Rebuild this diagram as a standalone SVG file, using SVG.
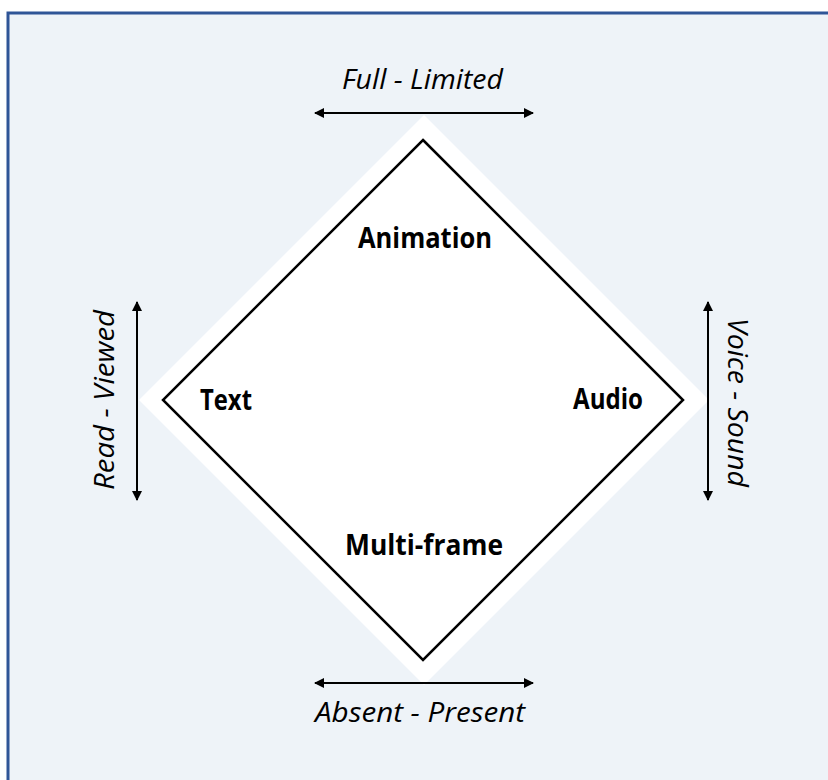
<svg xmlns="http://www.w3.org/2000/svg" width="828" height="780" viewBox="0 0 828 780">
  <style>
    .axis { font-family: "Open Sans", Lato, sans-serif; font-style: italic; font-size: 27px; fill: #000; }
    .node { font-family: "Open Sans", Lato, sans-serif; font-weight: bold; font-size: 29px; fill: #000; text-anchor: middle; }
    .conn { stroke: #000; stroke-width: 2; fill: none; marker-start: url(#tip); marker-end: url(#tip); }
  </style>
  <defs>
    <marker id="tip" viewBox="0 0 10 10" refX="9" refY="5" markerWidth="10" markerHeight="10" markerUnits="userSpaceOnUse" orient="auto-start-reverse">
      <path d="M0,0 L10,5 L0,10 Z" fill="#000"/>
    </marker>
  </defs>

  <!-- panel -->
  <rect x="0" y="0" width="828" height="780" fill="#ffffff"/>
  <rect x="8" y="13" width="830" height="780" fill="#EEF3F8" stroke="#2F5597" stroke-width="3"/>

  <!-- diamond -->
  <g id="diamond">
    <polygon points="424,115 709,400 424,685 139,400" fill="#ffffff"/>
    <polygon points="423,140 683,400 423,660 163,400" fill="#ffffff" stroke="#000" stroke-width="2.5"/>
  </g>

  <!-- node labels -->
  <g id="animation"><text class="node" x="425" y="248" textLength="134" lengthAdjust="spacingAndGlyphs">Animation</text></g>
  <g id="text"><text class="node" x="226" y="410" textLength="52" lengthAdjust="spacingAndGlyphs">Text</text></g>
  <g id="audio"><text class="node" x="608" y="409" textLength="70" lengthAdjust="spacingAndGlyphs">Audio</text></g>
  <g id="multiframe"><text class="node" x="424" y="555" textLength="158" lengthAdjust="spacingAndGlyphs">Multi-frame</text></g>

  <!-- axis connectors -->
  <g id="connectors">
    <line class="conn" x1="315" y1="113" x2="533" y2="113"/>
    <line class="conn" x1="315" y1="683" x2="533" y2="683"/>
    <line class="conn" x1="137" y1="302" x2="137" y2="500"/>
    <line class="conn" x1="708" y1="302" x2="708" y2="500"/>
  </g>

  <!-- axis labels -->
  <g id="axis-labels">
    <text class="axis" x="342" y="89" textLength="161" lengthAdjust="spacingAndGlyphs">Full - Limited</text>
    <text class="axis" x="315" y="722" textLength="210" lengthAdjust="spacingAndGlyphs">Absent - Present</text>
    <text class="axis" transform="translate(114,490) rotate(-90)" x="0" y="0" textLength="180" lengthAdjust="spacingAndGlyphs">Read - Viewed</text>
    <text class="axis" transform="translate(728,318) rotate(90)" x="0" y="0" textLength="169" lengthAdjust="spacingAndGlyphs">Voice - Sound</text>
  </g>
</svg>
